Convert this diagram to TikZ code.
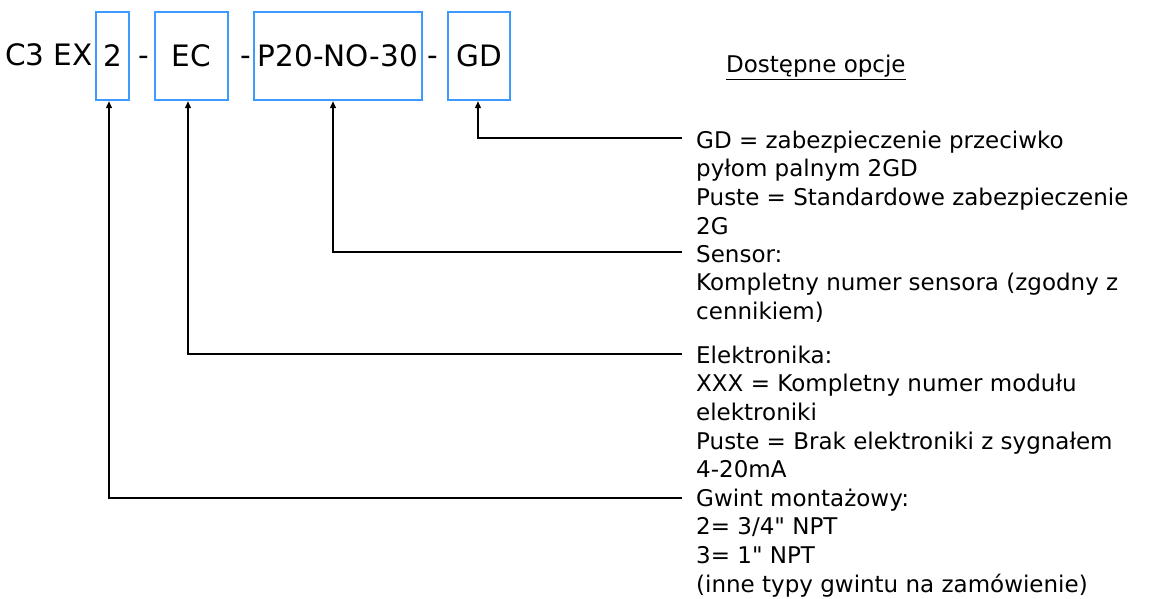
\documentclass[tikz,border=0pt]{standalone}
\usepackage{fontspec}
\newfontfamily\vfont{DejaVu Sans}
\usetikzlibrary{arrows.meta}
\definecolor{boxblue}{HTML}{3D9BFF}
\begin{document}
\begin{tikzpicture}[x=1pt,y=-1pt,
  codebox/.style={draw=boxblue,line width=2.5pt,inner sep=0pt,minimum height=88pt,text height=22pt,text depth=0pt,font=\vfont\fontsize{29.5}{36}\selectfont},
  codetext/.style={inner sep=0pt,anchor=base,font=\vfont\fontsize{29.5}{36}\selectfont},
  opt/.style={inner sep=0pt,anchor=base west,align=left,font=\vfont\fontsize{23}{28.7}\selectfont},
  conn/.style={line width=1.3pt,-{Triangle[length=7pt,width=6pt]}}]
\useasboundingbox (0,0) rectangle (1152,599);
% code boxes
\node[codebox,minimum width=33pt] (b2) at (112.5,56) {2};
\node[codebox,minimum width=73pt] (bEC) at (191.5,56) {EC};
\node[codebox,minimum width=168pt] (bP) at (338,56) {P20-NO-30};
\node[codebox,minimum width=62pt] (bGD) at (479,56) {GD};
\node[codetext,anchor=base east] (c3) at (93,66) {C3 EX};
\node[codetext] (d1) at (144,66) {-};
\node[codetext] (d2) at (246,66) {-};
\node[codetext] (d3) at (433,66) {-};
% title
\node[opt] (title) at (726,73) {\underline{Dostępne opcje}};
% options (anchor = baseline of last line)
\node[opt] (oGD) at (696,234.1) {GD = zabezpieczenie przeciwko\\pyłom palnym 2GD\\Puste = Standardowe zabezpieczenie\\2G};
\node[opt] (oS) at (696,319.4) {Sensor:\\Kompletny numer sensora (zgodny z\\cennikiem)};
\node[opt] (oE) at (696,477.8) {Elektronika:\\XXX = Kompletny numer modułu\\elektroniki\\Puste = Brak elektroniki z sygnałem\\4-20mA};
\node[opt] (oG) at (696,592.1) {Gwint montażowy:\\2= 3/4" NPT\\3= 1" NPT\\(inne typy gwintu na zamówienie)};
% connector ends
\coordinate (eGD) at (682,138);
\coordinate (eS) at (682,252);
\coordinate (eE) at (682,354);
\coordinate (eG) at (682,498);
\draw[conn] (eGD) -| ([xshift=-1pt]bGD.south);
\draw[conn] (eS) -| ([xshift=-5pt]bP.south);
\draw[conn] (eE) -| ([xshift=-3.5pt]bEC.south);
\draw[conn] (eG) -| ([xshift=-3.5pt]b2.south);
\end{tikzpicture}
\end{document}
